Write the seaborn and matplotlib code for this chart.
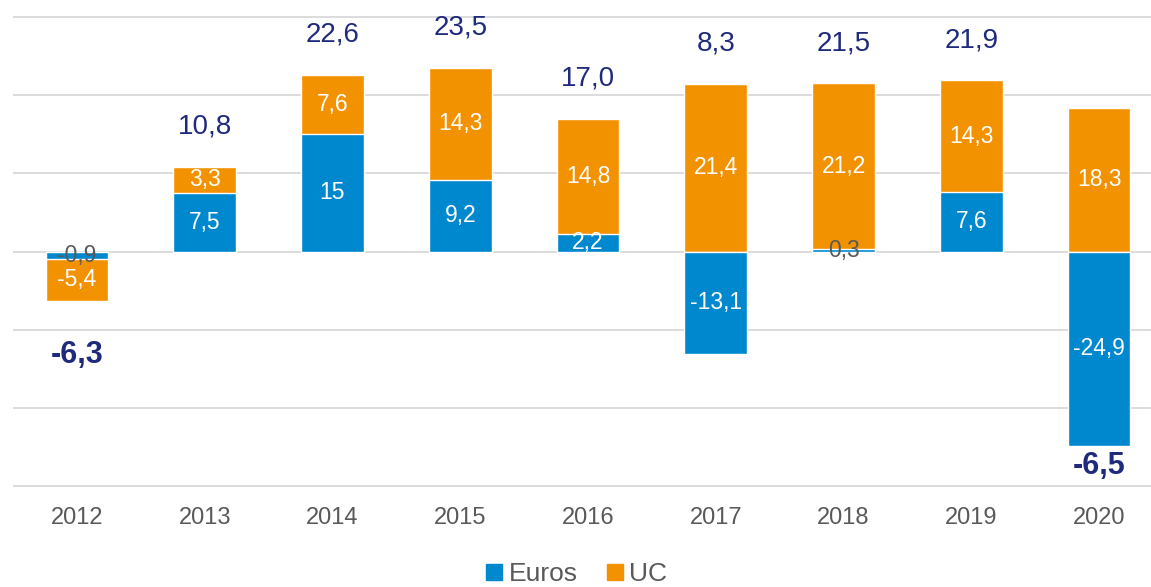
import numpy as np
import pandas as pd
import matplotlib
matplotlib.use("Agg")
import matplotlib.pyplot as plt
from matplotlib.lines import Line2D
import seaborn as sns

# Data
years = ["2012", "2013", "2014", "2015", "2016", "2017", "2018", "2019", "2020"]
euros = [-0.9, 7.5, 15, 9.2, 2.2, -13.1, 0.3, 7.6, -24.9]
uc = [-5.4, 3.3, 7.6, 14.3, 14.8, 21.4, 21.2, 14.3, 18.3]
totals = [-6.3, 10.8, 22.6, 23.5, 17.0, 8.3, 21.5, 21.9, -6.5]
euro_labels = ["-0,9", "7,5", "15", "9,2", "2,2", "-13,1", "0,3", "7,6", "-24,9"]

BLUE = "#0088CE"
ORANGE = "#F39200"
NAVY = "#1F2A7C"
GREY = "#595959"


def fmt(v):
    return f"{v:.1f}".replace(".", ",")


def flux_chart():
    sns.set_style("white")
    plt.rcParams["font.family"] = ["Liberation Sans", "DejaVu Sans"]

    # orange drawn as the full stack where both parts share a sign, blue on top
    same = [np.sign(e) == np.sign(u) for e, u in zip(euros, uc)]
    orange_h = [e + u if s else u for e, u, s in zip(euros, uc, same)]
    df = pd.DataFrame({"year": years, "euros": euros, "orange": orange_h})

    fig = plt.figure(figsize=(11.51, 5.87), dpi=100)
    W, H = 1151, 587
    ax = fig.add_axes([13 / W, 1 - 488 / H, (1163 - 13) / W, (488 - 15) / H])

    sns.barplot(data=df, x="year", y="orange", color=ORANGE, width=0.49,
                saturation=1, ax=ax, zorder=3)
    sns.barplot(data=df, x="year", y="euros", color=BLUE, width=0.49,
                saturation=1, ax=ax, zorder=3)

    ax.set_xlim(-0.5, 8.5)
    ax.set_ylim(-30.25, 30.25)
    ax.set_yticks(np.arange(-30, 31, 10))
    ax.yaxis.grid(True, color="#D9D9D9", lw=1.3, zorder=0)
    ax.set_yticklabels([])
    ax.tick_params(axis="y", length=0)
    ax.tick_params(axis="x", length=0, pad=14, labelsize=17, labelcolor=GREY)
    for s in ax.spines.values():
        s.set_visible(False)
    ax.set_xlabel("")
    ax.set_ylabel("")

    # segment labels
    for i, (e, u, s) in enumerate(zip(euros, uc, same)):
        ec = "white" if abs(e) > 1 else GREY
        ax.text(i, e / 2, euro_labels[i], ha="center", va="center",
                fontsize=16.5, color=ec, zorder=5)
        ub = e if s else 0
        ax.text(i, ub + u / 2, fmt(u), ha="center", va="center",
                fontsize=16.5, color="white", zorder=5)

    # totals above / below the stack
    for i, (e, u, t) in enumerate(zip(euros, uc, totals)):
        if t >= 0:
            top = max(e, 0) + max(u, 0)
            ax.annotate(fmt(t), (i, top), xytext=(0, 29), textcoords="offset points",
                        ha="center", va="center", fontsize=20, color=NAVY)
        else:
            bot = min(e, 0) + min(u, 0)
            off = -39 if i == 0 else -14
            ax.annotate(fmt(t), (i, bot), xytext=(0, off), textcoords="offset points",
                        ha="center", va="center", fontsize=22, color=NAVY,
                        fontweight="bold")

    handles = [Line2D([0], [0], marker="s", color="none", markerfacecolor=BLUE,
                      markeredgecolor=BLUE, markersize=11),
               Line2D([0], [0], marker="s", color="none", markerfacecolor=ORANGE,
                      markeredgecolor=ORANGE, markersize=11)]
    fig.legend(handles, ["Euros", "UC"], loc="center", bbox_to_anchor=(0.5, 0.022),
               ncol=2, frameon=False, fontsize=19, handletextpad=0.15,
               columnspacing=1.0, handlelength=0.8, labelcolor=GREY,
               borderpad=0.1)

    fig.savefig("out.png", dpi=100)


if __name__ == "__main__":
    flux_chart()
